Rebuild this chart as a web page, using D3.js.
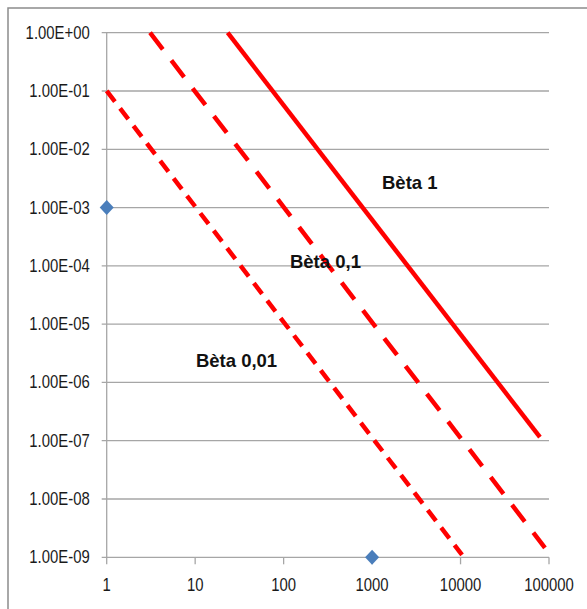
<!DOCTYPE html>
<html>
<head>
<meta charset="utf-8">
<script src="https://cdn.jsdelivr.net/npm/d3@7"></script>
<style>
  html, body { margin: 0; padding: 0; background: #fff; }
  svg { display: block; }
  .tick-label { font-family: "Liberation Sans", Arial, sans-serif; font-size: 17.5px; fill: #1a1a1a; }
  .series-label { font-family: "Liberation Sans", Arial, sans-serif; font-size: 18.5px; font-weight: bold; fill: #111; }
</style>
</head>
<body>
<script>
// Axis ticks
const xTicks = [1, 10, 100, 1000, 10000, 100000];
const xTickLabels = ["1", "10", "100", "1000", "10000", "100000"];
const yTicks = [1, 1e-1, 1e-2, 1e-3, 1e-4, 1e-5, 1e-6, 1e-7, 1e-8, 1e-9];
const yTickLabels = ["1.00E+00", "1.00E-01", "1.00E-02", "1.00E-03", "1.00E-04",
                     "1.00E-05", "1.00E-06", "1.00E-07", "1.00E-08", "1.00E-09"];

// Beta curves: end points (x, y) of each straight line in log-log space
const seriesNames = ["Bèta 1", "Bèta 0,1", "Bèta 0,01"];
const beta1 = [[23.3, 1], [79000, 1.15e-7]];
const beta01 = [[3.09, 1], [90000, 1.45e-9]];
const beta001 = [[1, 0.1], [10400, 1.1e-9]];

// Measured points
const pointsX = [1, 1000];
const pointsY = [1e-3, 1e-9];

// Label anchor points (data space, left/baseline)
const labelX = [1295, 118, 10.2];
const labelY = [2.08e-3, 9.2e-5, 1.84e-6];

const W = 587, H = 609;
const margin = { left: 106.7, right: W - 549, top: 32.7, bottom: H - 557.3 };
const narrow = 0.85; // horizontal squeeze for the axis label font

const svg = d3.select("body").append("svg")
  .attr("width", W).attr("height", H);

// outer chart frame
svg.append("rect")
  .attr("x", 8).attr("y", 8)
  .attr("width", 640).attr("height", 640)
  .attr("fill", "none").attr("stroke", "#8c8c8c").attr("stroke-width", 1.5);

const x = d3.scaleLog().domain([1, 100000]).range([margin.left, W - margin.right]);
const y = d3.scaleLog().domain([1e-9, 1]).range([H - margin.bottom, margin.top]);

// horizontal gridlines
svg.append("g").selectAll("line").data(yTicks).join("line")
  .attr("x1", x(1) - 5).attr("x2", x(100000))
  .attr("y1", d => y(d)).attr("y2", d => y(d))
  .attr("stroke", "#a6a6a6").attr("stroke-width", 1.3);

// vertical axis line
svg.append("line")
  .attr("x1", x(1)).attr("x2", x(1))
  .attr("y1", y(1)).attr("y2", y(1e-9))
  .attr("stroke", "#a6a6a6").attr("stroke-width", 1.3);

// x-axis tick marks
svg.append("g").selectAll("line").data(xTicks).join("line")
  .attr("x1", d => x(d)).attr("x2", d => x(d))
  .attr("y1", y(1e-9)).attr("y2", y(1e-9) + 7)
  .attr("stroke", "#a6a6a6").attr("stroke-width", 1.3);

// y tick labels
svg.append("g").selectAll("text").data(yTicks).join("text")
  .attr("class", "tick-label")
  .attr("transform", d => `translate(${x(1) - 17},${y(d) + 6}) scale(${narrow},1)`)
  .attr("text-anchor", "end")
  .text((d, i) => yTickLabels[i]);

// x tick labels
svg.append("g").selectAll("text").data(xTicks).join("text")
  .attr("class", "tick-label")
  .attr("transform", d => `translate(${x(d)},${y(1e-9) + 34}) scale(${narrow},1)`)
  .attr("text-anchor", "middle")
  .text((d, i) => xTickLabels[i]);

// beta lines
const line = d3.line().x(d => x(d[0])).y(d => y(d[1]));
const styles = [null, "21 14", "13.5 8.5"];
[beta1, beta01, beta001].forEach((pts, i) => {
  svg.append("path")
    .attr("d", line(pts))
    .attr("fill", "none")
    .attr("stroke", "#ff0000")
    .attr("stroke-width", 4.5)
    .attr("stroke-dasharray", styles[i]);
});

// diamond markers
svg.append("g").selectAll("path").data(pointsX).join("path")
  .attr("transform", (d, i) => `translate(${x(d)},${y(pointsY[i])})`)
  .attr("d", "M0,-7.5L7,0L0,7.5L-7,0Z")
  .attr("fill", "#4a7ebb");

// series labels
svg.append("g").selectAll("text").data(seriesNames).join("text")
  .attr("class", "series-label")
  .attr("x", (d, i) => x(labelX[i]))
  .attr("y", (d, i) => y(labelY[i]))
  .text(d => d);
</script>
</body>
</html>
